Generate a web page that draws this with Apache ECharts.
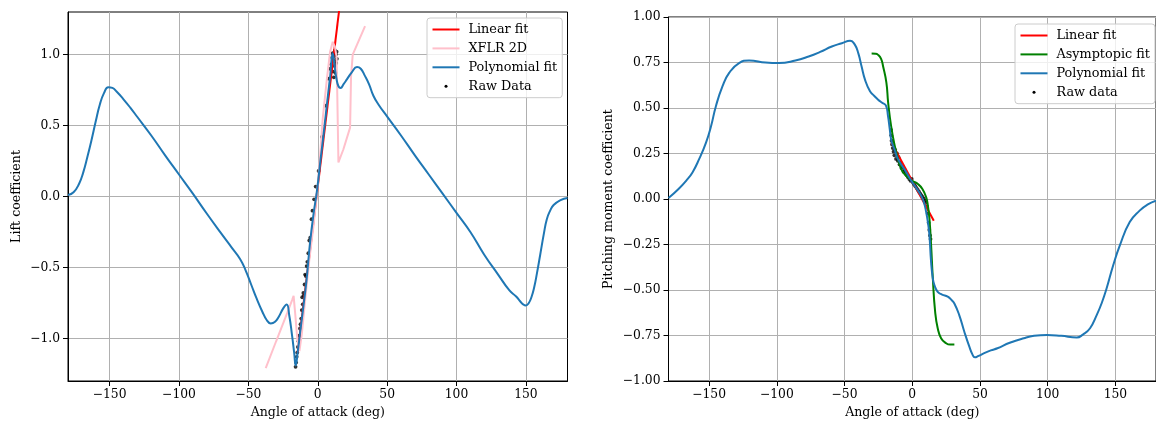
<!DOCTYPE html>
<html>
<head>
<meta charset="utf-8">
<script src="https://cdn.jsdelivr.net/npm/echarts@6/dist/echarts.min.js"></script>
<style>
  html, body { margin: 0; padding: 0; background: #ffffff; }
  #chart { width: 1156px; height: 424px; }
</style>
</head>
<body>
<div id="chart"></div>
<script>
// ---------- Lift coefficient panel ----------
const liftLinearAoa = [-14.5, 16];
const liftLinearCl = [-1.10, 1.36];

const xflrAoa = [-37.5, -30, -22, -18.5, -17.4, -16.3, -14.8, -13.2, -11.5, -9, -6, -3, 0, 2, 3.6, 6.5, 8.9, 10.8, 12.5, 13.6, 14.1, 14.9, 15.6, 18.5, 23.3, 24, 25.2, 34.1];
const xflrCl = [-1.21, -1.02, -0.82, -0.73, -0.70, -0.82, -1.0, -1.09, -0.97, -0.72, -0.44, -0.20, 0.08, 0.33, 0.55, 0.82, 1.02, 1.09, 1.05, 0.98, 0.705, 0.24, 0.23, 0.333, 0.485, 0.845, 1.0, 1.2];

const liftPolyAoa = [-180, -176, -172, -169, -166, -163, -160, -157, -154, -151, -148, -145, -140, -135, -130, -120, -110, -100, -90, -80, -70, -62, -56, -52, -48, -44, -40, -36.8, -33.9, -31, -28, -25, -22.4, -20.5, -18.5, -17, -15.9, -14.5, -12.5, -10.4, -8, -5.5, -3, -0.7, 2, 4.1, 6.5, 8.9, 10.8, 12, 13.5, 15, 16.5, 18.5, 21, 24.5, 28.3, 31, 34, 37, 40.1, 44, 49.8, 60, 70, 80, 90, 100, 110, 120, 130, 138, 143, 146, 148, 150, 152, 154, 156, 158, 160.3, 163, 165.1, 167.5, 170, 175, 180];
const liftPolyCl = [0.01, 0.03, 0.09, 0.17, 0.28, 0.40, 0.53, 0.65, 0.73, 0.77, 0.765, 0.74, 0.685, 0.625, 0.56, 0.43, 0.29, 0.155, 0.02, -0.12, -0.255, -0.36, -0.44, -0.52, -0.62, -0.72, -0.81, -0.87, -0.894, -0.885, -0.845, -0.79, -0.761, -0.84, -0.98, -1.10, -1.19, -1.10, -0.94, -0.78, -0.58, -0.32, -0.12, 0.03, 0.26, 0.43, 0.64, 0.845, 1.01, 0.93, 0.83, 0.775, 0.765, 0.79, 0.825, 0.875, 0.912, 0.90, 0.85, 0.79, 0.71, 0.645, 0.566, 0.43, 0.29, 0.155, 0.02, -0.115, -0.25, -0.41, -0.55, -0.66, -0.705, -0.74, -0.76, -0.768, -0.752, -0.71, -0.64, -0.54, -0.412, -0.26, -0.16, -0.10, -0.06, -0.025, -0.01];

const liftRawAoa = [-16.0, -15.6, -15.2, -14.8, -14.3, -13.9, -13.3, -12.8, -12.4, -11.9, -11.5, -11.2, -10.8, -10.4, -10.0, -9.5, -9.1, -8.6, -8.0, -7.5, -6.8, -6.1, -5.4, -4.5, -3.8, -2.6, -1.5, 0.6, 3.1, 5.6, 7.9, 9.0, 9.8, 10.4, 10.8, 11.1, 11.4, 11.6, 11.9, 12.2, 12.4, 12.7, 12.9, 13.1, 13.3, 13.6, 13.8];
const liftRawCl = [-1.20, -1.17, -1.13, -1.10, -1.06, -1.02, -0.98, -0.93, -0.90, -0.86, -0.80, -0.71, -0.76, -0.68, -0.70, -0.62, -0.55, -0.56, -0.49, -0.46, -0.40, -0.31, -0.29, -0.16, -0.10, -0.02, 0.07, 0.18, 0.42, 0.64, 0.83, 0.90, 0.93, 0.98, 1.01, 0.88, 0.96, 0.84, 0.99, 0.92, 1.03, 0.95, 0.87, 1.00, 0.94, 1.02, 0.97];

// ---------- Pitching moment panel ----------
const pmLinearAoa = [-15.4, 15.9];
const pmLinearCm = [0.31, -0.119];

const asymAoa = [-30, -27, -25.2, -23, -21.5, -19.1, -17.8, -15.6, -12.9, -10.5, -8.1, -5.5, -3.2, 0, 4.2, 7.5, 10.3, 11.6, 12.7, 13.9, 15.2, 16.9, 18.8, 21.3, 24.9, 28, 31.1];
const asymCm = [0.80, 0.798, 0.792, 0.77, 0.728, 0.64, 0.53, 0.40, 0.291, 0.22, 0.164, 0.135, 0.119, 0.10, 0.082, 0.055, 0.009, -0.04, -0.109, -0.25, -0.437, -0.619, -0.71, -0.765, -0.792, -0.80, -0.80];

const pmPolyAoa = [-180, -172.6, -167, -162.3, -157.4, -152.3, -148.6, -145, -140.1, -135.2, -127.9, -120.5, -108.3, -98.5, -86.3, -76.5, -68, -59.4, -52, -45.9, -42.3, -39.8, -37.4, -34.9, -31.2, -28, -25.2, -22.5, -19.5, -17.9, -16.6, -15.4, -13, -10.5, -5.5, -0.7, 3, 6.6, 8.7, 10.3, 11.6, 12.7, 13.9, 15.2, 16.4, 18.8, 22, 26.2, 29, 31.1, 34.7, 38.4, 42.1, 44.5, 46.2, 49, 53.1, 58, 62.9, 72, 82.4, 90, 99.5, 110, 121.5, 126, 131.3, 136.2, 140, 143.5, 148.4, 153.3, 160.6, 167.9, 174, 180];
const pmPolyCm = [0.005, 0.055, 0.10, 0.146, 0.219, 0.31, 0.40, 0.51, 0.62, 0.693, 0.747, 0.761, 0.75, 0.747, 0.761, 0.783, 0.808, 0.838, 0.856, 0.870, 0.847, 0.80, 0.728, 0.656, 0.592, 0.566, 0.546, 0.53, 0.514, 0.455, 0.383, 0.32, 0.27, 0.219, 0.16, 0.10, 0.06, 0.018, -0.02, -0.073, -0.13, -0.20, -0.346, -0.437, -0.474, -0.51, -0.525, -0.537, -0.555, -0.574, -0.638, -0.728, -0.81, -0.855, -0.870, -0.862, -0.847, -0.832, -0.820, -0.79, -0.765, -0.752, -0.747, -0.752, -0.761, -0.745, -0.71, -0.638, -0.57, -0.492, -0.364, -0.255, -0.127, -0.064, -0.03, -0.01];

const pmRawAoa = [-15.7, -15.5, -15.3, -14.9, -14.4, -13.8, -13.2, -12.6, -12.0, -11.3, -10.7, -10.1, -9.4, -8.7, -8.0, -7.2, -6.4, -5.6, -4.8, -4.0, -3.1, -2.2, -1.3, -0.4, 0.5, 1.4, 2.3, 3.2, 4.1, 5.0, 5.9, 6.8, 7.7, 8.6, 9.4, 10.2, 10.9, 11.5, 12.1, 12.6, 13.1, 13.5];
const pmRawCm = [0.38, 0.35, 0.32, 0.30, 0.28, 0.26, 0.24, 0.27, 0.22, 0.25, 0.21, 0.23, 0.19, 0.20, 0.17, 0.18, 0.15, 0.16, 0.14, 0.13, 0.12, 0.11, 0.10, 0.11, 0.09, 0.08, 0.07, 0.06, 0.05, 0.04, 0.03, 0.02, 0.01, 0.00, -0.01, -0.02, -0.04, -0.08, -0.13, -0.17, -0.20, -0.22];

// ---------- Tick labels ----------
const aoaTicks = [-150, -100, -50, 0, 50, 100, 150];
const liftTicks = [-1.0, -0.5, 0.0, 0.5, 1.0];
const pmTicks = [-1.0, -0.75, -0.5, -0.25, 0.0, 0.25, 0.5, 0.75, 1.0];

const FONT = 'DejaVu Serif';
const TICK_FS = 12.3;
const NAME_FS = 12.6;
const LEGEND_FS = 12.8;
const GRID_COLOR = '#b0b0b0';
const BLUE = '#1f77b4';

function pairs(xs, ys) { return xs.map((x, i) => [x, ys[i]]); }
function fmt(d) {
  return function (v) {
    const s = Math.abs(v).toFixed(d);
    return (v < 0 && Math.abs(v) > 1e-9 ? '\u2212' : '') + s;
  };
}

function xAxisDef(gridIndex) {
  return {
    gridIndex: gridIndex,
    type: 'value', min: -180, max: 180, splitNumber: 7,
    name: 'Angle of attack (deg)', nameLocation: 'middle', nameGap: 25,
    nameTextStyle: { fontFamily: FONT, fontSize: NAME_FS, color: '#000' },
    axisLine: { show: true, onZero: false, lineStyle: { color: '#000', width: 1 } },
    axisTick: { show: true, customValues: aoaTicks, length: 5, lineStyle: { color: '#000', width: 1 } },
    axisLabel: { customValues: aoaTicks, formatter: fmt(0), margin: 8, color: '#000', fontFamily: FONT, fontSize: TICK_FS },
    splitLine: { show: true, lineStyle: { color: GRID_COLOR, width: 1 } }
  };
}

function yAxisDef(gridIndex, opts) {
  return Object.assign({
    gridIndex: gridIndex,
    type: 'value',
    nameLocation: 'middle',
    nameTextStyle: { fontFamily: FONT, fontSize: NAME_FS, color: '#000' },
    axisLine: { show: true, onZero: false, lineStyle: { color: '#000', width: 1 } },
    axisTick: { show: true, customValues: opts.ticks, length: 5, lineStyle: { color: '#000', width: 1 } },
    axisLabel: { customValues: opts.ticks, formatter: fmt(opts.digits), margin: 8, color: '#000', fontFamily: FONT, fontSize: TICK_FS },
    splitLine: { show: true, lineStyle: { color: GRID_COLOR, width: 1 } }
  }, opts.extra);
}

// Line entries show only their stroke; the scatter entry shows a dot.
function legendDef(left, top, lineNames, dotName) {
  const data = lineNames.map(n => ({ name: n }));
  data.push({ name: dotName, itemStyle: { opacity: 1 } });
  return {
    orient: 'vertical', left: left, top: top,
    data: data,
    itemWidth: 27, itemHeight: 3, itemGap: 5.9,
    padding: [5, 5, 5, 4.5],
    backgroundColor: 'rgba(255,255,255,0.8)',
    borderColor: '#cccccc', borderWidth: 1, borderRadius: 3,
    selectedMode: false,
    itemStyle: { opacity: 0 },
    textStyle: { fontFamily: FONT, fontSize: LEGEND_FS, color: '#000', padding: [0, 0, 0, 4] }
  };
}

function lineSeries(name, xi, data, color, smooth) {
  return {
    name: name, type: 'line', xAxisIndex: xi, yAxisIndex: xi,
    data: data, symbol: 'none', smooth: smooth || false, clip: true,
    lineStyle: { color: color, width: 2 }, itemStyle: { color: color },
    emphasis: { disabled: true }
  };
}

function scatterSeries(name, xi, data) {
  return {
    name: name, type: 'scatter', xAxisIndex: xi, yAxisIndex: xi,
    data: data, symbol: 'circle', symbolSize: 3.8,
    itemStyle: { color: '#000' }, emphasis: { disabled: true }
  };
}

const chart = echarts.init(document.getElementById('chart'), null, { renderer: 'canvas' });
chart.setOption({
  animation: false,
  backgroundColor: '#ffffff',
  grid: [
    { left: 68, right: 588.5, top: 12, bottom: 40.7, show: true, borderColor: '#000', borderWidth: 1, backgroundColor: 'transparent' },
    { left: 668.5, right: -3.7, top: 17, bottom: 40.7, show: true, borderColor: '#000', borderWidth: 1, backgroundColor: 'transparent' }
  ],
  xAxis: [xAxisDef(0), xAxisDef(1)],
  yAxis: [
    yAxisDef(0, { ticks: liftTicks, digits: 1, extra: { min: -1.3, max: 1.3, splitNumber: 5, name: 'Lift coefficient', nameGap: 45 } }),
    yAxisDef(1, { ticks: pmTicks, digits: 2, extra: { min: -1, max: 1, interval: 0.25, name: 'Pitching moment coefficient', nameGap: 53 } })
  ],
  legend: [
    legendDef(427, 18, ['Linear fit', 'XFLR 2D', 'Polynomial fit'], 'Raw Data'),
    legendDef(1015, 24, ['Linear fit', 'Asymptopic fit', 'Polynomial fit'], 'Raw data')
  ],
  series: [
    lineSeries('Linear fit', 0, pairs(liftLinearAoa, liftLinearCl), '#ff0000'),
    lineSeries('XFLR 2D', 0, pairs(xflrAoa, xflrCl), '#ffc0cb'),
    lineSeries('Polynomial fit', 0, pairs(liftPolyAoa, liftPolyCl), BLUE, 0.5),
    scatterSeries('Raw Data', 0, pairs(liftRawAoa, liftRawCl)),

    lineSeries('Linear fit', 1, pairs(pmLinearAoa, pmLinearCm), '#ff0000'),
    lineSeries('Asymptopic fit', 1, pairs(asymAoa, asymCm), '#008000', 0.5),
    lineSeries('Polynomial fit', 1, pairs(pmPolyAoa, pmPolyCm), BLUE, 0.5),
    scatterSeries('Raw data', 1, pairs(pmRawAoa, pmRawCm))
  ]
});
</script>
</body>
</html>
